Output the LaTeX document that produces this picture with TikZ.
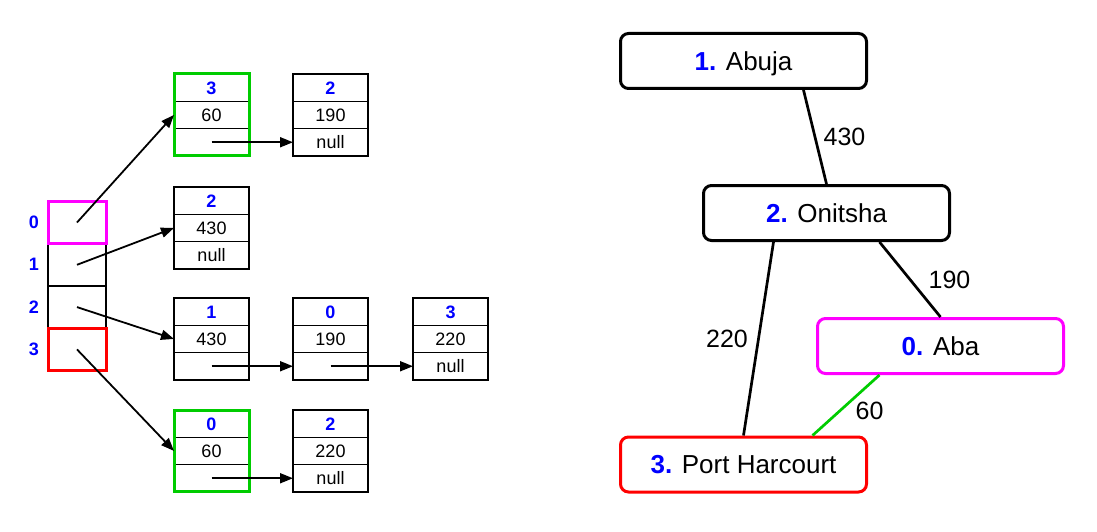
\documentclass[tikz,border=0pt]{standalone}
\usepackage{fontspec}
\setmainfont{Liberation Sans}
\usepackage{xcolor}
\usetikzlibrary{arrows.meta,calc,positioning}
\definecolor{idxblue}{RGB}{0,0,255}
\definecolor{visitgreen}{RGB}{0,204,0}
\definecolor{startpink}{RGB}{255,0,255}
\definecolor{endred}{RGB}{255,0,0}
\newcommand{\adjentry}[6]{%
  \node[cellbox,anchor=north west] (#1i) at (#2,#3) {\textbf{\textcolor{idxblue}{#4}}};%
  \node[cellbox,anchor=north] (#1w) at (#1i.south) {#5};%
  \node[cellbox,anchor=north] (#1n) at (#1w.south) {#6};%
}

\begin{document}
\begin{tikzpicture}[x=1pt,y=-1pt,
  cellbox/.style={draw,line width=1.2pt,minimum width=75pt,minimum height=27.3pt,inner sep=0pt,outer sep=0pt,text height=12.9pt,text depth=0pt,font=\fontsize{18}{21}\selectfont},
  slot/.style={draw,line width=1.2pt,minimum width=58pt,minimum height=42.3pt,inner sep=0pt,outer sep=0pt},
  ptr/.style={line width=1.8pt,-{Triangle[length=13pt,width=10pt]}},
  city/.style={draw,line width=3pt,rounded corners=8pt,minimum width=246pt,minimum height=55pt,text height=18.6pt,text depth=0pt,font=\fontsize{26}{30}\selectfont},
  road/.style={line width=2.7pt},
  cost/.style={font=\fontsize{25}{30}\selectfont}]
  \useasboundingbox (0,0) rectangle (1097,532);
  % adjacency array
  \foreach \i in {0,...,3}{
    \node[slot] (slot\i) at (77,222.5+42.3*\i) {};
    \node[font=\fontsize{18}{21}\selectfont\bfseries,text=idxblue] (lbl\i) at (34,222.5+42.3*\i) {\i};
  }
  \draw[startpink,line width=3pt] (slot0.north west) rectangle (slot0.south east);
  \draw[endred,line width=3pt] (slot3.north west) rectangle (slot3.south east);
  % edge lists
  \adjentry{a}{174}{74}{3}{60}{}
  \adjentry{b}{293}{74}{2}{190}{null}
  \adjentry{c}{174}{187}{2}{430}{null}
  \adjentry{d}{174}{298}{1}{430}{}
  \adjentry{e}{293}{298}{0}{190}{}
  \adjentry{f}{413}{298}{3}{220}{null}
  \adjentry{g}{174}{410}{0}{60}{}
  \adjentry{h}{293}{410}{2}{220}{null}
  \draw[visitgreen,line width=3pt] (ai.north west) rectangle (an.south east);
  \draw[visitgreen,line width=3pt] (gi.north west) rectangle (gn.south east);
  \draw[ptr] (slot0.center) -- (aw.west);
  \draw[ptr] (slot1.center) -- (cw.west);
  \draw[ptr] (slot2.center) -- (dw.west);
  \draw[ptr] (slot3.center) -- (gw.west);
  \draw[ptr] (an.center) -- (bn.west);
  \draw[ptr] (dn.center) -- (en.west);
  \draw[ptr] (en.center) -- (fn.west);
  \draw[ptr] (gn.center) -- (hn.west);
  % graph
  \node[city] (abuja) at (743.5,61) {\textbf{\textcolor{idxblue}{1.}} Abuja};
  \node[city] (onitsha) at (826.5,213) {\textbf{\textcolor{idxblue}{2.}} Onitsha};
  \node[city,draw=startpink] (aba) at (940.5,346) {\textbf{\textcolor{idxblue}{0.}} Aba};
  \node[city,draw=endred] (portharcourt) at (743.5,464.5) {\textbf{\textcolor{idxblue}{3.}} Port Harcourt};
  \draw[road] ([xshift=60pt]abuja.south) -- (onitsha.north) node[midway,right=4pt,cost] {430};
  \draw[road] ([xshift=53pt]onitsha.south) -- (aba.north) node[midway,right=14pt,cost] {190};
  \draw[road] ([xshift=-53pt]onitsha.south) -- (portharcourt.north) node[midway,left=6pt,cost] {220};
  \draw[road,draw=visitgreen] ([xshift=-61pt]aba.south) -- ([xshift=69pt]portharcourt.north) node[midway,right=5pt,yshift=-6pt,cost] {60};
\end{tikzpicture}
\end{document}
